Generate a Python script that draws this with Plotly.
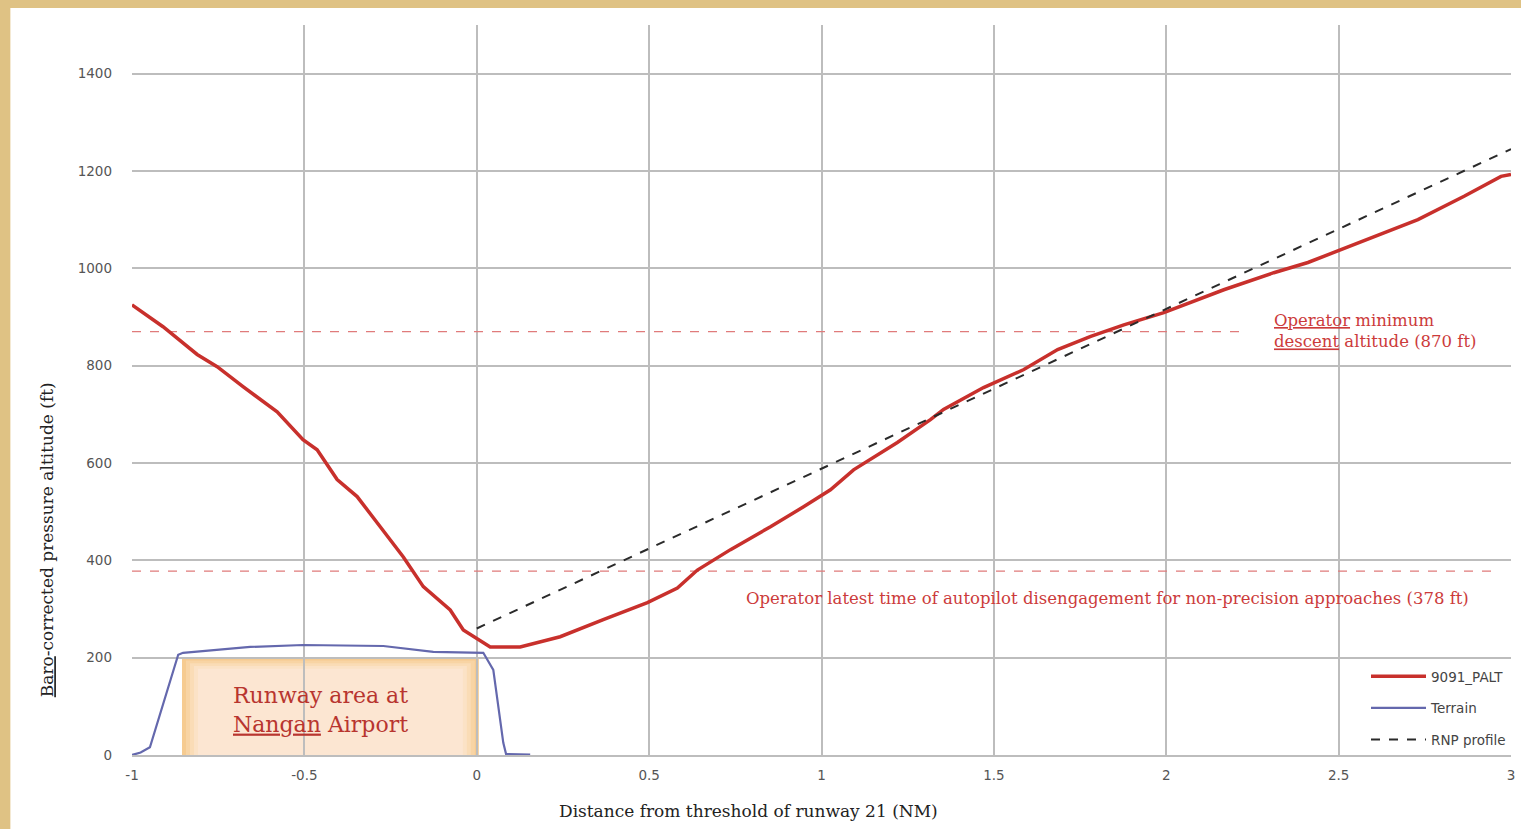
import plotly.graph_objects as go

# ---- data ----
palt_x = [-1.0, -0.91, -0.811, -0.753, -0.678, -0.579, -0.504, -0.463, -0.405, -0.347, -0.280, -0.213,
          -0.155, -0.077, -0.039, 0.019, 0.039, 0.126, 0.242, 0.367, 0.495, 0.582, 0.640, 0.736, 0.852,
          0.948, 1.026, 1.093, 1.220, 1.316, 1.354, 1.470, 1.587, 1.685, 1.781, 1.877, 1.993, 2.167,
          2.312, 2.411, 2.486, 2.631, 2.730, 2.864, 2.971, 3.0]
palt_y = [925, 880, 823, 798, 757, 705, 648, 627, 566, 531, 469, 407,
          346, 298, 257, 230, 222, 222, 243, 278, 313, 343, 380, 422, 469,
          510, 545, 586, 642, 689, 710, 755, 792, 833, 860, 884, 909, 956,
          991, 1012, 1033, 1074, 1100, 1148, 1189, 1193]

terrain_x = [-1.0, -0.975, -0.948, -0.866, -0.852, -0.657, -0.504, -0.271, -0.126, 0.019,
             0.048, 0.077, 0.085, 0.155]
terrain_y = [0, 5, 16, 206, 210, 222, 226, 224, 212, 210, 175, 25, 2, 1]

rnp_x = [0.0, 3.0]
rnp_y = [260, 1245]

mda_ft = 870
mda_end = 2.22
ap_ft = 378
ap_end = 2.96

runway_x = [-0.855, 0.006]
runway_y = [0, 200]

x_ticks = [-1, -0.5, 0, 0.5, 1, 1.5, 2, 2.5, 3]
x_tick_text = ["-1", "-0.5", "0", "0.5", "1", "1.5", "2", "2.5", "3"]
y_ticks = [0, 200, 400, 600, 800, 1000, 1200, 1400]

RED = "#c8302c"
ANN_RED = "#cc3b3b"
SERIF = "DejaVu Serif"
SANS = "DejaVu Sans"

# plot-area geometry (pixels)
L, R, T, B = 132, 6, 25, 74
W, H = 1521, 829
PW, PH = W - L - R, H - T - B
XPX = 4.0 / PW      # NM per pixel
YPX = 1500.0 / PH   # ft per pixel

fig = go.Figure()

fig.add_trace(go.Scatter(x=[-1, mda_end], y=[mda_ft, mda_ft], mode="lines",
                         line=dict(color="#e07b7b", width=1.2, dash="dash"), showlegend=False, hoverinfo="skip"))
fig.add_trace(go.Scatter(x=[-1, ap_end], y=[ap_ft, ap_ft], mode="lines",
                         line=dict(color="#e07b7b", width=1.2, dash="dash"), showlegend=False, hoverinfo="skip"))

fig.add_trace(go.Scatter(x=palt_x, y=palt_y, mode="lines", name="9091_PALT", legendgroup="a",
                         line=dict(color=RED, width=3.5)))
fig.add_trace(go.Scatter(x=terrain_x, y=terrain_y, mode="lines", name="Terrain", legendgroup="b",
                         line=dict(color="#6468ad", width=2.2)))
fig.add_trace(go.Scatter(x=rnp_x, y=rnp_y, mode="lines", name="RNP profile", legendgroup="c",
                         line=dict(color="#2a2a2a", width=2, dash="dash")))

# runway box drawn as nested rects to imitate a soft gradient
runway_cols = ["#f6cb90", "#f8d4a4", "#fadcb6", "#fbe2c6", "#fce6d2"]
shapes = []
for i, c in enumerate(runway_cols):
    ins = 4 * i
    shapes.append(dict(type="rect", xref="x", yref="y",
                       x0=runway_x[0] + ins * XPX, x1=runway_x[1] - ins * XPX,
                       y0=runway_y[0], y1=runway_y[1] - ins * 0.7 * YPX,
                       fillcolor=c, line=dict(width=0), layer="below"))

# tan frame strips (top and left)
shapes += [
    dict(type="rect", xref="paper", yref="paper", x0=-L / PW - 0.01, x1=(10 - L) / PW,
         y0=-B / PH - 0.01, y1=(H - B) / PH + 0.01,
         fillcolor="#dfc284", line=dict(width=0)),
    dict(type="rect", xref="paper", yref="paper", x0=-L / PW - 0.01, x1=1 + R / PW + 0.01,
         y0=(PH + T - 8) / PH, y1=(PH + T) / PH + 0.01,
         fillcolor="#dfc284", line=dict(width=0)),
]

annotations = [
    dict(x=2.306, y=872, xref="x", yref="y", xanchor="left", yanchor="middle", showarrow=False, align="left",
         text="<u>Operator</u> minimum<br><u>descent</u> altitude (870 ft)",
         font=dict(family=SERIF, size=16.5, color=ANN_RED)),
    dict(x=1.83, y=321, xref="x", yref="y", xanchor="center", yanchor="middle", showarrow=False,
         text="Operator latest time of autopilot disengagement for non-precision approaches (378 ft)",
         font=dict(family=SERIF, size=16.5, color=ANN_RED)),
    dict(x=-0.454, y=93, xref="x", yref="y", xanchor="center", yanchor="middle", showarrow=False,
         text="Runway area at<br><u>Nangan</u> Airport",
         font=dict(family=SERIF, size=22, color="#b8352f")),
    dict(x=(47 - L) / PW, y=(H - B - 540) / PH, xref="paper", yref="paper", textangle=-90,
         xanchor="center", yanchor="middle", showarrow=False,
         text="<u>Baro</u>-corrected pressure altitude (ft)",
         font=dict(family=SERIF, size=17, color="#222")),
    dict(x=(750 - L) / PW, y=(H - B - 811) / PH, xref="paper", yref="paper",
         xanchor="center", yanchor="middle", showarrow=False,
         text="Distance from threshold of runway 21 (NM)",
         font=dict(family=SERIF, size=17, color="#222")),
]

fig.update_layout(
    width=W, height=H,
    margin=dict(l=L, r=R, t=T, b=B),
    paper_bgcolor="white", plot_bgcolor="white",
    shapes=shapes,
    annotations=annotations,
    xaxis=dict(range=[-1, 3], tickvals=x_ticks, ticktext=x_tick_text, showgrid=True, gridcolor="#bdbdbd",
               gridwidth=1.5, zeroline=False, showline=True, linecolor="#bdbdbd", linewidth=1.5,
               ticks="", tickfont=dict(family=SANS, size=13.5, color="#555"), ticklabelstandoff=7),
    yaxis=dict(range=[0, 1500], tickvals=y_ticks, showgrid=True, gridcolor="#bdbdbd", gridwidth=1.5,
               zeroline=False, showline=False, ticks="",
               tickfont=dict(family=SANS, size=13.5, color="#555"), ticklabelstandoff=19),
    legend=dict(x=1.0, y=0.0, xanchor="right", yanchor="bottom", bgcolor="white",
                font=dict(family=SANS, size=13.5, color="#444"), traceorder="grouped", tracegroupgap=11,
                itemwidth=55),
)

fig.write_html("out.html", post_script="document.body.style.margin='0';",
               config={"displayModeBar": False})
